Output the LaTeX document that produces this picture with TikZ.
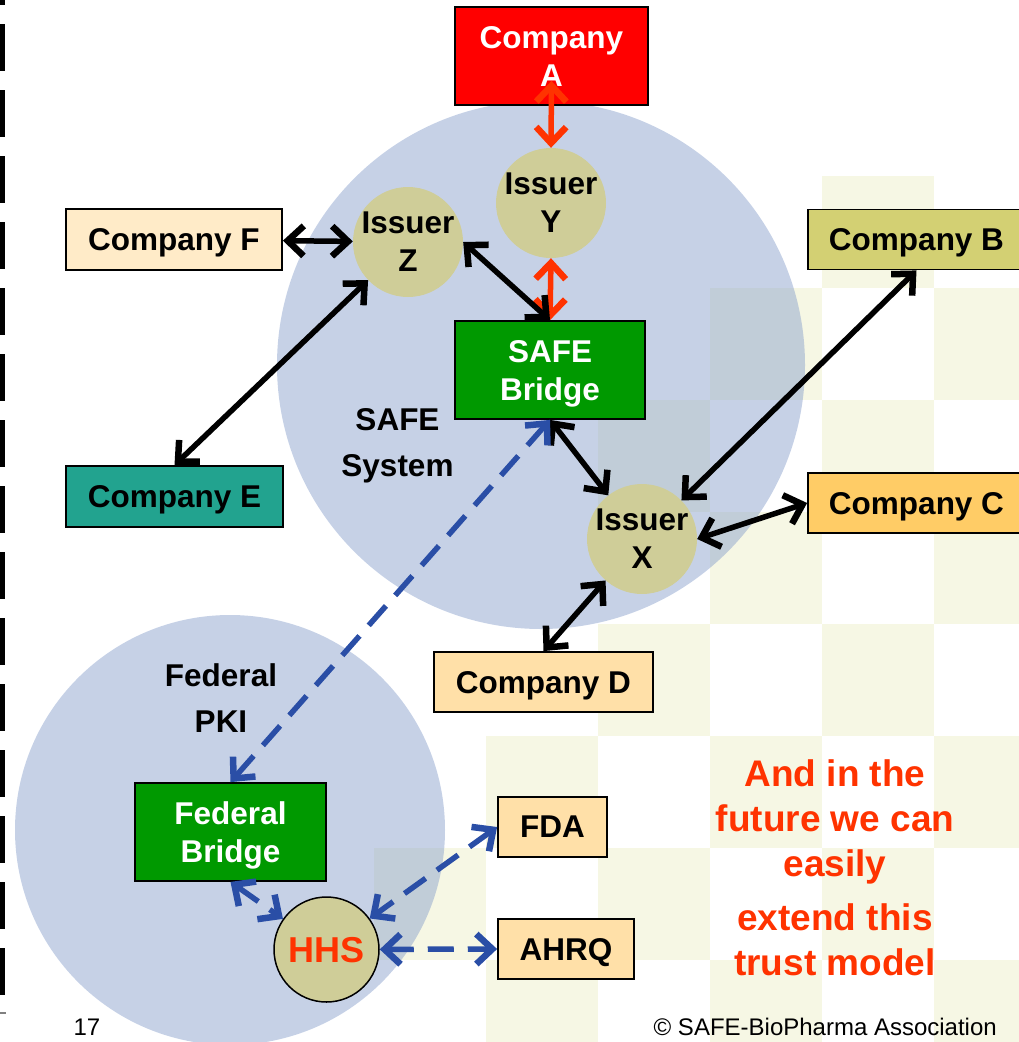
\documentclass[tikz,border=0pt]{standalone}
\usepackage{fontspec}
\setmainfont{Liberation Sans}
\usetikzlibrary{arrows.meta}
\definecolor{cF}{HTML}{FFEBC8}
\definecolor{cD}{HTML}{FFE0A8}
\definecolor{cB}{HTML}{D3D073}
\definecolor{cC}{HTML}{FFCC66}
\definecolor{cE}{HTML}{22A38F}
\definecolor{cGreen}{HTML}{009900}
\definecolor{cRed}{HTML}{FF0000}
\definecolor{cOrange}{HTML}{FF3300}
\definecolor{cIssuer}{HTML}{CFCD98}
\definecolor{cBlue}{HTML}{2A4EA6}
\definecolor{cChecker}{HTML}{F6F7E4}
\definecolor{cSys}{HTML}{8EA4CE}
\tikzset{
  boxfont/.style={font=\bfseries\fontsize{31.5}{38}\selectfont},
  cbox/.style={draw=black, line width=1.8pt, inner sep=0pt, boxfont, align=center, text=black, text depth=0pt},
  issuer/.style={circle, fill=cIssuer, minimum size=104pt, inner sep=0pt, boxfont, align=center, text depth=0pt},
  checker/.style={fill=cChecker},
  sysarea/.style={fill=cSys, fill opacity=0.5},
  arrowtip/.style={>={Straight Barb[length=16pt,width=30pt,line width=6.5pt]}},
  blk/.style={arrowtip, <->, line width=5.5pt, black},
  redarr/.style={arrowtip, <->, line width=5.5pt, cOrange},
  bluearr/.style={arrowtip, <->, line width=5.5pt, cBlue, dash pattern=on 26pt off 14pt},
  plainlabel/.style={font=\bfseries\fontsize{31.5}{46}\selectfont, align=center, text=black, text depth=0pt},
  redtext/.style={font=\bfseries\fontsize{37}{45}\selectfont, align=center, text=cOrange, text depth=0pt},
  foot/.style={font=\fontsize{24}{29}\selectfont, text=black, inner sep=0pt}
}
\begin{document}
\begin{tikzpicture}[x=1pt,y=-1pt]
\useasboundingbox (0,0) rectangle (1019,1042);
\clip (0,0) rectangle (1019,1042);
% checkerboard background
\foreach \c/\r in {4/0,3/1,5/1,2/2,4/2,3/3,5/3,2/4,4/4,1/5,3/5,5/5,0/6,2/6,4/6,1/7,3/7,5/7}
  \fill[checker] ({374+112*\c},{176+112*\r}) rectangle ++(112,112);
% left dashed border
\draw[line width=5pt, dash pattern=on 47pt off 19pt] (2.5,-42) -- (2.5,995);
\draw[gray, line width=1.5pt] (0,1013) -- (6,1013);
% system areas
\fill[sysarea] (541,365) circle (264pt);
\fill[sysarea] (230,830) circle (215pt);
% labels of areas
\node[plainlabel] (sys) at (397.5,442) {SAFE\\System};
\node[plainlabel] (pki) at (221,698) {Federal\\PKI};
% nodes
\node[cbox, fill=cRed, text=white, minimum width=193pt, minimum height=98pt] (A) at (551.5,56) {Company\\A};
\node[cbox, fill=cGreen, text=white, minimum width=190pt, minimum height=98pt] (bridge) at (550,370) {SAFE\\Bridge};
\node[cbox, fill=cGreen, text=white, minimum width=191pt, minimum height=98pt] (FB) at (230.5,832) {Federal\\Bridge};
\node[cbox, fill=cF, minimum width=216pt, minimum height=61pt] (F) at (174,239.5) {Company F};
\node[cbox, fill=cE, minimum width=217pt, minimum height=61pt] (E) at (174.5,496.5) {Company E};
\node[cbox, fill=cB, minimum width=217pt, minimum height=60pt] (B) at (916.5,239.5) {Company B};
\node[cbox, fill=cC, minimum width=217pt, minimum height=60pt] (C) at (916.5,503) {Company C};
\node[cbox, fill=cD, minimum width=219pt, minimum height=60pt] (D) at (543.5,682) {Company D};
\node[cbox, fill=cD, minimum width=109pt, minimum height=60pt] (FDA) at (552.5,827) {FDA};
\node[cbox, fill=cD, minimum width=136pt, minimum height=60pt] (AHRQ) at (566,949) {AHRQ};
\node[issuer] (Y) at (551,203) {Issuer\\Y};
\node[issuer] (Z) at (408,242) {Issuer\\Z};
\node[issuer] (X) at (642,539) {Issuer\\X};
\node[issuer, draw=black, line width=1.5pt, minimum size=105pt, text=cOrange, font=\bfseries\fontsize{36}{43}\selectfont] (HHS) at (326.5,949.5) {HHS};
% connectors
\draw[redarr] ([yshift=25pt]A.south) -- (Y.north);
\draw[redarr] (Y.south) -- (bridge.north);
\draw[blk] (F) -- (Z);
\draw[blk] (Z.east) -- (bridge.north);
\draw[blk] (E.north) -- (Z);
\draw[blk] (bridge.south) -- (X);
\draw[blk] (B.south) -- (X);
\draw[blk] (C.west) -- (X.east);
\draw[blk] (D.north) -- (X);
\draw[bluearr] (bridge.south) -- (FB.north);
\draw[bluearr] (FB.south) -- (HHS);
\draw[bluearr] (FDA.west) -- (HHS);
\draw[bluearr] (HHS) -- (AHRQ.west);
% red text
\node[redtext] (futA) at (835,818) {And in the\\future we can\\easily};
\node[redtext] (futB) at (835,939.5) {extend this\\trust model};
% footer
\node[foot] (page) at (87,1027) {17};
\node[foot, anchor=east] (copy) at (997,1027) {© SAFE-BioPharma Association};
\end{tikzpicture}
\end{document}
